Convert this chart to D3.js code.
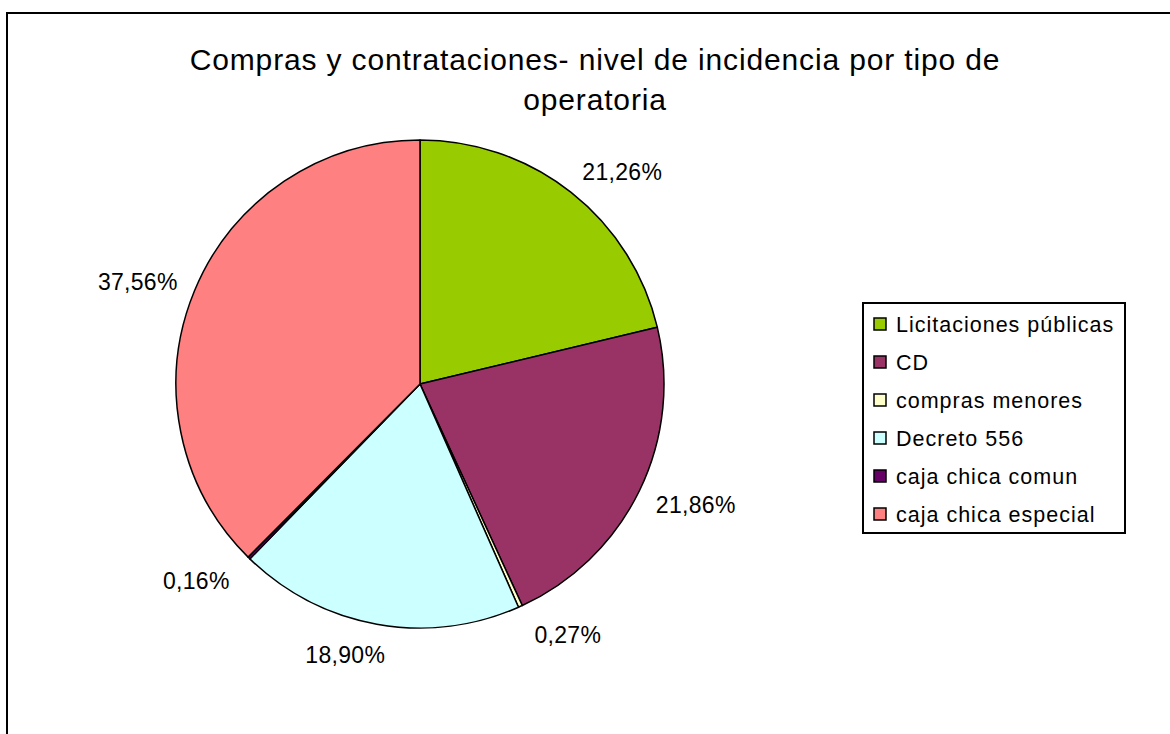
<!DOCTYPE html>
<html><head><meta charset="utf-8">
<script src="https://cdn.jsdelivr.net/npm/d3@7"></script>
<style>body{margin:0;background:#fff}svg{display:block}text{font-family:"Liberation Sans",Arial,sans-serif;fill:#000}</style>
</head><body>
<script>
const categories = ["Licitaciones públicas","CD","compras menores","Decreto 556","caja chica comun","caja chica especial"];
const values = [21.26, 21.86, 0.27, 18.90, 0.16, 37.56];
const labels = ["21,26%","21,86%","0,27%","18,90%","0,16%","37,56%"];
const colors = ["#99CC00","#993366","#FFFFCC","#CCFFFF","#660066","#FF8080"];
const titleLines = ["Compras y contrataciones- nivel de incidencia por tipo de","operatoria"];

const W=1170,H=734;
const svg=d3.select("body").append("svg").attr("width",W).attr("height",H);
svg.append("rect").attr("x",7).attr("y",13).attr("width",W+20).attr("height",H+20)
  .attr("fill","#fff").attr("stroke","#000").attr("stroke-width",2);

svg.append("g").selectAll("text").data(titleLines).join("text")
  .attr("x",595).attr("y",(d,i)=>70+i*40).attr("text-anchor","middle")
  .attr("font-size",30).attr("letter-spacing",0.85).text(d=>d);

const cx=420,cy=384,r=244;
const pie=d3.pie().sort(null).value(d=>d)(values);
const arc=d3.arc().innerRadius(0).outerRadius(r);
const g=svg.append("g").attr("transform",`translate(${cx},${cy})`);
g.selectAll("path").data(pie).join("path").attr("d",arc)
  .attr("fill",(d,i)=>colors[i]).attr("stroke","#000").attr("stroke-width",1.5).attr("stroke-linejoin","round");

const hw=40,hh=11,d0=r+18;
g.selectAll("text").data(pie).join("text")
  .attr("font-size",23).attr("letter-spacing",0.3).attr("text-anchor","middle").attr("dy","0.35em")
  .attr("x",d=>{const a=(d.startAngle+d.endAngle)/2;const s=Math.sin(a);return d0*s+hw*Math.max(-1,Math.min(1,s*4));})
  .attr("y",d=>{const a=(d.startAngle+d.endAngle)/2;const c=Math.cos(a);return -d0*c-hh*c+2;})
  .text((d,i)=>labels[i]);

const lg=svg.append("g");
lg.append("rect").attr("x",863).attr("y",303).attr("width",262).attr("height",230)
  .attr("fill","#fff").attr("stroke","#000").attr("stroke-width",2);
const items=lg.selectAll("g.it").data(categories).join("g").attr("class","it")
  .attr("transform",(d,i)=>`translate(0,${324+i*38})`);
items.append("rect").attr("x",874).attr("y",-6).attr("width",12).attr("height",12)
  .attr("fill",(d,i)=>colors[i]).attr("stroke","#000").attr("stroke-width",1.5);
items.append("text").attr("x",896).attr("dy","0.35em").attr("font-size",21.5).attr("letter-spacing",1.0).text(d=>d);
</script>
</body></html>
